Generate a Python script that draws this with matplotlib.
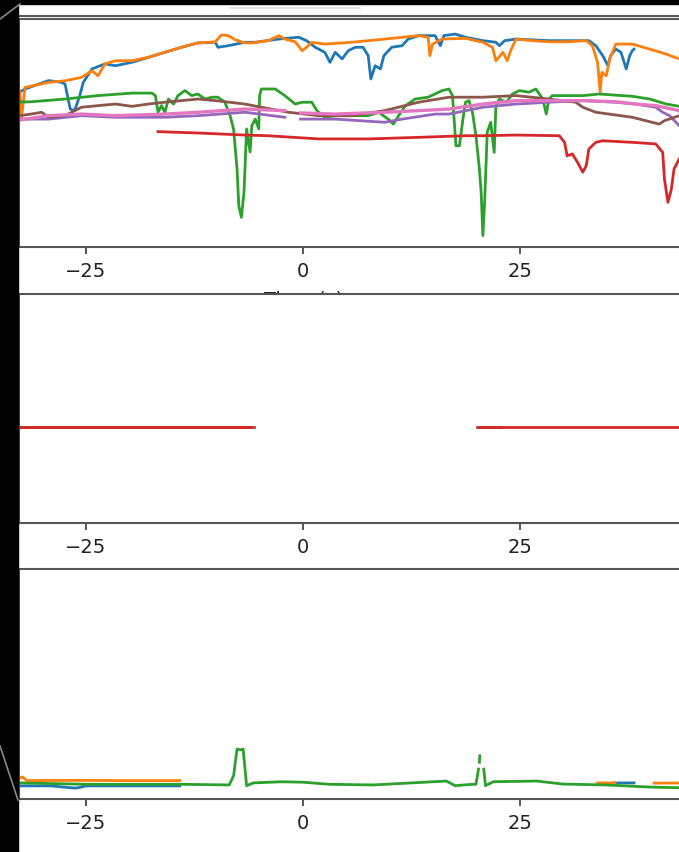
import numpy as np
import matplotlib
matplotlib.use("Agg")
import matplotlib.pyplot as plt
from matplotlib.lines import Line2D
from matplotlib.patches import Rectangle

nan = np.nan

# ---- top panel: level traces per channel ----
blue_x = [-32.6, -32.0, -29.3, -27.8, -27.4, -26.8, -26.3, -25.7, -25.3, -24.3, -22.8, -21.6,
          -19.7, -17.8, -15.9, -14.0, -12.1, -10.1, -9.8, -8.6, -6.7, -5.5, -2.8, -0.5, 0.4,
          1.4, 2.5, 3.1, 3.7, 4.5, 5.2, 6.0, 6.9, 7.5, 7.8, 8.3, 8.9, 9.3, 10.2, 11.4, 12.1,
          13.3, 15.2, 15.8, 16.2, 17.5, 18.7, 20.7, 22.2, 22.6, 23.2, 24.5, 28.3, 32.9, 33.7,
          34.5, 35.1, 35.4, 36.0, 36.6, 37.2, 37.6, 37.9, 38.1]
blue_y = [68.0, 69.3, 73.0, 72.2, 71.5, 60.5, 59.8, 66.4, 72.2, 78.1, 80.3, 79.5,
          81.0, 83.2, 85.4, 87.6, 89.5, 89.8, 87.6, 88.3, 89.8, 89.8, 91.2, 92.0, 90.5,
          87.6, 85.4, 81.0, 85.4, 82.5, 86.1, 87.6, 87.6, 83.9, 73.7, 79.5, 78.1, 83.9, 87.6, 88.3, 91.2,
          92.7, 92.7, 88.3, 92.7, 93.4, 92.0, 90.5, 89.8, 88.3, 90.5, 91.2, 90.5, 90.5, 88.3,
          83.9, 79.5, 83.9, 86.8, 85.4, 78.1, 83.9, 86.1, 86.8]

orange_x = [-32.6, -32.4, -32.0, -29.3, -27.4, -25.5, -24.3, -23.6, -22.8, -21.6, -19.7, -17.8,
            -15.9, -14.0, -12.1, -10.1, -9.4, -8.6, -7.8, -6.7, -5.9, -4.0, -2.8, -2.1, -0.9,
            -0.1, 0.4, 1.0, 2.5, 5.6, 9.4, 13.3, 14.4, 14.6, 14.9, 16.0, 18.7, 20.7, 21.8,
            22.2, 23.0, 23.5, 23.9, 24.5, 26.4, 28.3, 30.3, 32.6, 33.3, 33.9, 34.2, 34.4,
            34.9, 35.3, 36.0, 37.9, 39.9, 41.8, 43.3, 46.0]
orange_y = [68.4, 57.0, 70.0, 72.2, 72.9, 74.4, 77.3, 75.1, 80.3, 81.7, 81.7, 83.2,
            85.4, 87.6, 89.5, 90.0, 93.0, 92.7, 90.9, 89.5, 89.5, 90.5, 92.7, 91.2, 90.0,
            86.1, 87.6, 89.8, 89.0, 89.8, 91.2, 92.7, 92.0, 83.9, 89.0, 91.2, 91.5, 89.8, 87.6,
            81.7, 85.4, 81.7, 86.1, 91.2, 90.5, 90.0, 90.0, 90.5, 88.3, 81.0, 67.9, 76.6,
            75.1, 82.5, 89.0, 89.0, 86.8, 84.6, 82.5, 80.5]

green_x = [-33.2, -31.3, -27.4, -23.6, -19.7, -17.4, -17.0, -16.7, -16.3, -15.9, -15.5, -14.9,
           -14.4, -13.6, -12.8, -12.1, -11.3, -10.5, -9.8, -9.0, -8.4, -8.0, -7.6, -7.4, -7.1,
           -6.8, -6.5, -6.1, -5.9, -5.5, -5.1, -5.0, -4.8, -3.2, -2.1, -0.9, -0.1, 1.0, 1.6,
           2.5, 3.7, 5.6, 7.5, 8.7, 9.8, 10.4, 11.0, 11.8, 12.9, 14.4, 16.0, 16.8, 17.2, 17.6,
           18.0, 18.4, 18.7, 19.1, 19.5, 19.9, 20.3, 20.5, 20.7, 20.9, 21.2, 21.6, 22.0, 22.2,
           22.6, 23.4, 24.1, 24.9, 26.0, 26.8, 27.6, 28.0, 28.3, 28.7, 32.2, 34.1, 36.0, 37.9,
           39.9, 41.8, 43.3, 46.0]
green_y = [63.5, 63.7, 64.9, 66.4, 67.5, 67.5, 66.4, 59.1, 62.0, 59.1, 64.9, 62.7,
           66.4, 68.6, 66.4, 67.1, 64.9, 65.7, 65.7, 63.5, 57.6, 51.8, 34.2, 18.1, 13.0,
           24.0, 51.8, 41.7, 53.2, 56.1, 51.8, 66.4, 69.3, 69.3, 66.4, 62.7, 63.5, 63.5, 59.8,
           56.9, 57.6, 57.6, 57.6, 59.1, 56.1, 53.9, 57.6, 62.0, 64.9, 65.7, 68.6, 69.3, 66.4, 44.4,
           44.4, 56.1, 63.5, 64.2, 59.1, 48.8, 34.2, 24.0, 5.0, 19.6, 50.3, 54.7, 41.5, 62.0,
           64.9, 63.5, 67.1, 68.6, 67.9, 69.3, 64.9, 58.3, 64.9, 66.4, 66.4, 67.1, 66.6, 66.1,
           64.9, 62.7, 61.7, 60.5]

red_x = [-16.7, -12.1, -6.7, -4.0, 1.8, 7.5, 13.3, 18.7, 20.7, 24.5, 29.5, 30.1, 30.4, 31.0,
         31.6, 32.2, 32.6, 32.9, 33.7, 34.5, 37.9, 40.6, 41.4, 41.6, 42.0, 42.4, 42.7, 43.3, 44.0]
red_y = [50.6, 50.0, 49.1, 48.8, 47.4, 47.4, 48.1, 48.8, 48.8, 49.1, 48.8, 45.9, 40.0, 40.8,
         37.1, 32.8, 35.7, 43.0, 45.9, 46.6, 45.9, 45.2, 41.5, 29.8, 19.6, 25.4, 34.2, 38.6, 42.0]

purple_x = [-33.2, -29.3, -25.5, -21.6, -15.9, -12.1, -6.7, -2.1, nan, -0.3, 3.7, 9.4, 11.4,
            15.2, 16.8, 20.7, 24.5, 28.3, 32.2, 36.0, 38.3, 40.6, 41.4, 42.2, 43.3, 44.0]
purple_y = [56.1, 56.1, 57.6, 56.9, 56.9, 57.6, 59.1, 56.9, nan, 56.1, 56.1, 54.7, 56.1,
            58.3, 58.3, 61.3, 62.7, 63.5, 64.2, 63.5, 62.7, 61.3, 59.1, 57.6, 53.2, 50.5]

brown_x = [-32.6, -31.3, -30.1, -29.3, -27.4, -25.5, -23.6, -21.6, -19.7, -17.8, -15.9, -14.0,
           -12.1, -10.1, -6.7, -4.8, -1.7, 1.8, 5.6, 9.4, 13.3, 16.8, 20.7, 24.5, 28.3, 31.4,
           32.2, 33.7, 37.9, 41.0, 41.6, 43.3, 44.0]
brown_y = [57.6, 58.3, 59.1, 56.9, 57.6, 61.3, 62.0, 62.7, 61.7, 62.7, 63.5, 64.2,
           64.9, 64.2, 62.7, 61.3, 59.1, 57.6, 57.6, 59.8, 63.5, 65.7, 65.7, 66.4, 64.9, 63.5,
           61.3, 59.1, 56.9, 53.9, 55.4, 57.6, 58.0]

pink_x = [-33.2, -29.3, -25.5, -21.6, -15.9, -12.1, -6.7, -2.1, nan, -0.3, 3.7, 9.4, 13.3,
          16.8, 20.7, 24.5, 28.3, 32.2, 36.0, 38.3, 40.6, 43.3, 44.0]
pink_y = [55.4, 57.6, 58.3, 57.6, 58.3, 59.1, 60.5, 59.8, nan, 58.8, 58.3, 59.1, 59.8,
          60.5, 62.7, 64.2, 64.2, 64.2, 63.7, 62.7, 62.0, 59.8, 59.0]

# ---- middle panel: flag level ----
flag_green_x = [-33.0, -5.7, nan, 20.0, 22.8]
flag_green_y = [0.0, 0.0, nan, 0.0, 0.0]
flag_red_x = [-33.0, -6.0, nan, 20.3, 46.0]
flag_red_y = [0.0, 0.0, nan, 0.0, 0.0]

# ---- bottom panel: error counts ----
err_blue_x = [-33.0, -29.0, -26.5, -26.0, -25.0, -20.0, -14.2, nan, 35.9, 38.1]
err_blue_y = [5.7, 5.7, 4.8, 4.8, 5.7, 5.7, 5.7, nan, 7.0, 7.0]
err_orange_x = [-33.0, -32.3, -31.8, -25.0, -20.0, -14.2, nan, 33.9, 35.9, nan, 40.4, 46.0]
err_orange_y = [8.5, 9.6, 8.0, 8.1, 8.0, 8.0, nan, 7.0, 7.0, nan, 6.9, 7.0]
err_green_x = [-32.7, -24.9, -14.0, -8.5, -8.0, -7.6, -7.2, -6.9, -6.5, -5.7, -2.5, 0.0, 3.0,
               8.0, 12.5, 16.5, 17.5, 19.5, 19.9, 20.2, nan, 20.3, 20.35, nan, 20.8, 21.0,
               21.9, 26.9, 29.9, 34.9, 39.9, 43.3, 46.0]
err_green_y = [7.0, 6.4, 6.4, 6.1, 10.1, 21.7, 21.4, 21.7, 5.8, 7.0, 7.5, 7.3, 6.4,
               6.1, 7.0, 7.8, 5.8, 6.4, 6.4, 13.0, nan, 16.0, 18.8, nan, 13.0, 5.8,
               7.5, 7.8, 6.5, 6.1, 5.2, 4.9, 4.8]

XLIM = (-32.7, 52.6)
SPINE = "#555555"


def style_axes(ax, xlabel=None):
    ax.set_xlim(*XLIM)
    ax.set_xticks([-25, 0, 25])
    ax.set_yticks([])
    ax.tick_params(axis="x", length=5, width=1.4, pad=5, labelsize=14,
                   colors=SPINE, labelcolor="#222222")
    for s in ax.spines.values():
        s.set_color(SPINE)
        s.set_linewidth(1.5)
    if xlabel:
        # label sits mostly behind the panel below it
        ax.set_xlabel(xlabel, fontsize=14, color="#222222")
        ax.xaxis.set_label_coords((304 - 19) / 741, -0.188)


fig = plt.figure(figsize=(6.79, 8.53), dpi=100)
W = 741 / 679
L = 19 / 679

ax1 = fig.add_axes([L, 605 / 853, W, 228 / 853])
ax2 = fig.add_axes([L, 329 / 853, W, 229 / 853])
ax3 = fig.add_axes([L, 53 / 853, W, 230 / 853])

lw = 2.0
ax1.plot(blue_x, blue_y, color="tab:blue", lw=lw)
ax1.plot(orange_x, orange_y, color="tab:orange", lw=lw)
ax1.plot(green_x, green_y, color="tab:green", lw=lw)
ax1.plot(red_x, red_y, color="tab:red", lw=lw)
ax1.plot(purple_x, purple_y, color="tab:purple", lw=lw)
ax1.plot(brown_x, brown_y, color="tab:brown", lw=lw)
ax1.plot(pink_x, pink_y, color="tab:pink", lw=2.4)
ax1.set_ylim(0, 100)
style_axes(ax1, "Time (s)")

ax2.plot(flag_green_x, flag_green_y, color="tab:brown", lw=lw)
ax2.plot(flag_red_x, flag_red_y, color="tab:red", lw=lw)
ax2.set_ylim(-0.42, 0.58)
style_axes(ax2, "Time (s)")

ax3.plot(err_blue_x, err_blue_y, color="tab:blue", lw=lw)
ax3.plot(err_orange_x, err_orange_y, color="tab:orange", lw=lw)
ax3.plot(err_green_x, err_green_y, color="tab:green", lw=lw)
ax3.set_ylim(0, 100)
style_axes(ax3)

# frame around the view: dark borders and edge lines
fig.add_artist(Line2D([19 / 679, 1], [1 - 17 / 853] * 2, color=SPINE, lw=1.5,
                      transform=fig.transFigure, zorder=5))
fig.add_artist(Line2D([230 / 679, 360 / 679], [1 - 9 / 853] * 2, color="#dddddd", lw=1.2,
                      transform=fig.transFigure, zorder=5))
fig.add_artist(Rectangle((0, 0), 18 / 679, 1, color="black",
                         transform=fig.transFigure, zorder=10))
fig.add_artist(Rectangle((0, 1 - 5 / 853), 1, 5 / 853, color="black",
                         transform=fig.transFigure, zorder=10))
fig.add_artist(Line2D([0, 20 / 679], [1 - 20 / 853, 1 - 5 / 853], color="#888888", lw=1.2,
                      transform=fig.transFigure, zorder=11))
fig.add_artist(Line2D([0, 18 / 679], [1 - 747 / 853, 1 - 801 / 853], color="#888888", lw=1.2,
                      transform=fig.transFigure, zorder=11))

fig.savefig("out.png", dpi=100)
